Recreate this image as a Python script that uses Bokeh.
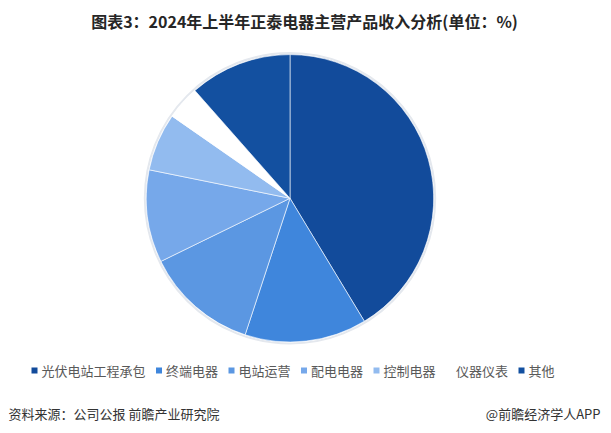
import numpy as np
from bokeh.plotting import figure
from bokeh.models import Range1d, ColumnDataSource
from bokeh.core.properties import value
from bokeh.embed import file_html
from bokeh.resources import INLINE

# ---- data ----
categories = ["光伏电站工程承包", "终端电器", "电站运营", "配电电器", "控制电器", "仪器仪表", "其他"]
shares = [41.3, 13.7, 12.7, 10.4, 6.5, 3.8, 11.5]
colors = ["#124B9B", "#3F86DC", "#5B97E2", "#76A8EA", "#92BBEF", "#FFFFFF", "#1350A0"]
title_text = "图表3：2024年上半年正泰电器主营产品收入分析(单位：%)"
source_left = "资料来源：公司公报 前瞻产业研究院"
source_right = "@前瞻经济学人APP"

W, H = 605, 425
FONT = "Noto Sans CJK SC"

p = figure(width=W, height=H, output_backend="svg", toolbar_location=None,
           x_range=Range1d(0, W), y_range=Range1d(0, H), min_border=0)
p.axis.visible = False
p.grid.visible = False
p.outline_line_color = None
p.background_fill_color = "white"
p.border_fill_color = "white"

# ---- pie ----
vals = np.array(shares, dtype=float)
frac = vals / vals.sum()
cum = np.concatenate([[0.0], np.cumsum(frac)])
start = np.pi / 2 - cum[:-1] * 2 * np.pi
end = np.pi / 2 - cum[1:] * 2 * np.pi
cx, cy, r = 289.5, H - 197.8, 143.7

p.circle(x=[cx], y=[cy], radius=r + 1.5, fill_color=None, line_color="#E4E8EE", line_width=2)
src = ColumnDataSource(dict(start=start, end=end, color=colors, name=categories))
p.wedge(x=cx, y=cy, radius=r, start_angle="start", end_angle="end", direction="clock",
        fill_color="color", line_color="white", line_width=0.6, source=src)

# ---- title ----
p.text(x=[304], y=[H - 20], text=[title_text], text_font=value(FONT), text_font_size="16px",
       text_font_style="bold", text_color="#262626", text_align="center", text_baseline="middle")

# ---- legend ----
lx = []
pos = 31.0
for name in categories:
    lx.append(pos)
    pos += 20.5 + 13 * len(name)
lx = np.array(lx)
ly = H - 370
p.scatter(x=lx + 3, y=[ly] * len(categories), marker="square", size=6,
          fill_color=colors, line_color=None)
p.text(x=lx + 10, y=[ly] * len(categories), text=categories, text_font=value(FONT),
       text_font_size="13px", text_color="#595959", text_align="left", text_baseline="middle")

# ---- footer ----
p.text(x=[8], y=[H - 413], text=[source_left], text_font=value(FONT), text_font_size="13px",
       text_color="#333333", text_align="left", text_baseline="middle")
p.text(x=[600], y=[H - 413], text=[source_right], text_font=value(FONT), text_font_size="13px",
       text_color="#333333", text_align="right", text_baseline="middle")

open("out.html", "w").write(file_html(p, INLINE))
